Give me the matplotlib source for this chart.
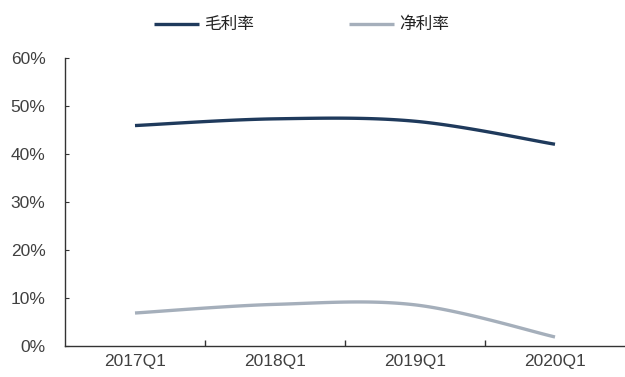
import numpy as np
import matplotlib
matplotlib.use("Agg")
import matplotlib.pyplot as plt
from matplotlib.ticker import FuncFormatter, FixedLocator

categories = ["2017Q1", "2018Q1", "2019Q1", "2020Q1"]
gross_margin = [46.0, 47.4, 46.9, 42.1]   # 毛利率 (%)
net_margin = [6.9, 8.7, 8.6, 1.9]         # 净利率 (%)
series_names = ["毛利率", "净利率"]
y_ticks = [0, 10, 20, 30, 40, 50, 60]


def smooth(xs, ys, n=40):
    """Catmull-Rom smoothing (Excel-like smoothed line) for display."""
    xs = np.asarray(xs, float)
    ys = np.asarray(ys, float)
    px = np.concatenate([[xs[0]], xs, [xs[-1]]])
    py = np.concatenate([[ys[0]], ys, [ys[-1]]])
    out_x, out_y = [], []
    for i in range(1, len(px) - 2):
        t = np.linspace(0, 1, n)
        x0, x1, x2, x3 = px[i - 1:i + 3]
        y0, y1, y2, y3 = py[i - 1:i + 3]
        mx1, mx2 = (x2 - x0) / 2, (x3 - x1) / 2
        my1, my2 = (y2 - y0) / 2, (y3 - y1) / 2
        h00 = 2 * t**3 - 3 * t**2 + 1
        h10 = t**3 - 2 * t**2 + t
        h01 = -2 * t**3 + 3 * t**2
        h11 = t**3 - t**2
        out_x.append(h00 * x1 + h10 * mx1 + h01 * x2 + h11 * mx2)
        out_y.append(h00 * y1 + h10 * my1 + h01 * y2 + h11 * my2)
    return np.concatenate(out_x), np.concatenate(out_y)


plt.rcParams['font.family'] = ['Liberation Sans', 'Noto Sans CJK SC', 'DejaVu Sans']

fig = plt.figure(figsize=(6.25, 3.77), dpi=100)
ax = fig.add_axes([0.104, 0.082, 0.896, 0.763])

x = np.arange(len(categories))
colors = ["#1f3a5c", "#a5afbb"]
for vals, name, c in zip([gross_margin, net_margin], series_names, colors):
    sx, sy = smooth(x, vals)
    ax.plot(sx, sy, color=c, lw=2.4, label=name, solid_capstyle='butt')

ax.set_xlim(-0.5, len(categories) - 0.5)
ax.set_ylim(0, 60)
ax.yaxis.set_major_locator(FixedLocator(y_ticks))
ax.yaxis.set_major_formatter(FuncFormatter(lambda v, p: f"{v:.0f}%"))
ax.set_xticks(x)
ax.set_xticklabels(categories)
ax.set_xticks(np.arange(len(categories) - 1) + 0.5, minor=True)
ax.tick_params(axis='x', which='major', length=0, pad=6, labelsize=12.5, labelcolor="#404040")
ax.tick_params(axis='x', which='minor', length=4, direction='in', color="#333333", width=1)
ax.tick_params(axis='y', which='major', length=3, direction='in', pad=14, labelsize=12.5,
               labelcolor="#404040", color="#333333")

for s in ["top", "right"]:
    ax.spines[s].set_visible(False)
for s in ["left", "bottom"]:
    ax.spines[s].set_color("#333333")
    ax.spines[s].set_linewidth(1.0)

leg = fig.legend(loc='center', bbox_to_anchor=(0.482, 0.934), ncol=2, frameon=False,
                 handlelength=2.7, columnspacing=5.7, handletextpad=0.3,
                 prop={'family': ['Noto Sans CJK SC', 'DejaVu Sans'], 'size': 12})
for t in leg.get_texts():
    t.set_color("#222222")

fig.savefig("out.png", dpi=100)
